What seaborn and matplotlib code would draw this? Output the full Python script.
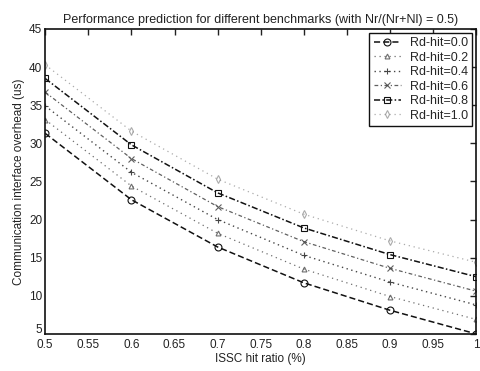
import matplotlib
matplotlib.use("Agg")
import matplotlib.pyplot as plt
import matplotlib.transforms as mtransforms
import seaborn as sns
import pandas as pd

# ISSC hit ratio on the x axis
hit_ratio = [0.5, 0.6, 0.7, 0.8, 0.9, 1.0]

# Communication interface overhead (us) for each read-hit ratio
rd_hit_00 = [31.3, 22.6, 16.4, 11.7, 8.1, 5.0]
rd_hit_02 = [33.1, 24.4, 18.2, 13.5, 9.9, 6.9]
rd_hit_04 = [34.9, 26.2, 20.0, 15.3, 11.8, 8.8]
rd_hit_06 = [36.7, 28.0, 21.7, 17.1, 13.6, 10.6]
rd_hit_08 = [38.5, 29.8, 23.5, 18.9, 15.4, 12.5]
rd_hit_10 = [40.3, 31.6, 25.3, 20.7, 17.2, 14.4]

series_names = ["Rd-hit=0.0", "Rd-hit=0.2", "Rd-hit=0.4",
                "Rd-hit=0.6", "Rd-hit=0.8", "Rd-hit=1.0"]
series_values = [rd_hit_00, rd_hit_02, rd_hit_04, rd_hit_06, rd_hit_08, rd_hit_10]

x_ticks = [0.5, 0.55, 0.6, 0.65, 0.7, 0.75, 0.8, 0.85, 0.9, 0.95, 1.0]
x_tick_labels = ["0.5", "0.55", "0.6", "0.65", "0.7", "0.75", "0.8",
                 "0.85", "0.9", "0.95", "1"]
y_ticks = [5, 10, 15, 20, 25, 30, 35, 40, 45]

rows = []
for name, vals in zip(series_names, series_values):
    for xv, yv in zip(hit_ratio, vals):
        rows.append({"ISSC hit ratio": xv, "overhead": yv, "series": name})
df = pd.DataFrame(rows)

sns.set_theme(style="white")
plt.rcParams["font.family"] = ["Liberation Sans", "DejaVu Sans"]

# MATLAB-like line specs for each curve
line_specs = {
    "Rd-hit=0.0": dict(ls=(0, (4, 2)), marker="o", color="#111111", lw=1.1, ms=5, alpha=1.0),
    "Rd-hit=0.2": dict(ls=(0, (1, 3)), marker="^", color="#555555", lw=0.9, ms=3.5, alpha=0.85),
    "Rd-hit=0.4": dict(ls=(0, (1, 2.5)), marker="+", color="#333333", lw=1.0, ms=5, alpha=0.9),
    "Rd-hit=0.6": dict(ls=(0, (3, 2, 1, 2)), marker="x", color="#444444", lw=0.9, ms=4.5, alpha=0.85),
    "Rd-hit=0.8": dict(ls=(0, (4, 1.5, 1, 1.5)), marker="s", color="#111111", lw=1.1, ms=4, alpha=1.0),
    "Rd-hit=1.0": dict(ls=(0, (1, 3)), marker="d", color="#888888", lw=0.9, ms=4, alpha=0.7),
}

fig = plt.figure(figsize=(4.81, 3.71), dpi=100)
ax = fig.add_axes([0.094, 0.10, 0.896, 0.822])

for name in series_names:
    spec = line_specs[name]
    sub = df[df["series"] == name]
    sns.lineplot(data=sub, x="ISSC hit ratio", y="overhead", ax=ax,
                 color=spec["color"], linewidth=spec["lw"], linestyle=spec["ls"],
                 marker=spec["marker"], markersize=spec["ms"],
                 markerfacecolor="none", markeredgecolor=spec["color"],
                 markeredgewidth=0.8, alpha=spec["alpha"], label=name)

ax.set_xlim(0.5, 1.0)
ax.set_ylim(5, 45)
ax.set_xticks(x_ticks)
ax.set_xticklabels(x_tick_labels)
ax.set_yticks(y_ticks)

ax.tick_params(direction="in", length=4, width=1, top=True, right=True,
               labelsize=8.5, colors="#222222")
ax.tick_params(axis="x", pad=4)
ax.tick_params(axis="y", pad=2)
for side in ["top", "right", "bottom", "left"]:
    ax.spines[side].set_visible(True)
    ax.spines[side].set_color("#111111")
    ax.spines[side].set_linewidth(1.2)

# lift the lowest y tick label so it sits above the x tick labels
fig.canvas.draw()
lift = mtransforms.ScaledTranslation(0, 4 / 72, fig.dpi_scale_trans)
lowest = ax.get_yticklabels()[0]
lowest.set_transform(lowest.get_transform() + lift)

ax.set_xlabel("ISSC hit ratio (%)", fontsize=8.5, color="#222222", labelpad=1)
ax.set_ylabel("Communication interface overhead (us)", fontsize=8.5,
              color="#222222", labelpad=3)
ax.set_title("Performance prediction for different benchmarks (with Nr/(Nr+Nl) = 0.5)",
             fontsize=9, color="#222222", pad=4)

leg = ax.legend(loc="upper right", fontsize=9, frameon=True, fancybox=False,
                handlelength=2.2, borderpad=0.35, labelspacing=0.2,
                handletextpad=0.7, borderaxespad=0.3)
leg.get_frame().set_edgecolor("#111111")
leg.get_frame().set_linewidth(1.0)
leg.get_frame().set_alpha(1.0)

fig.savefig("out.png", dpi=100, facecolor="white")
